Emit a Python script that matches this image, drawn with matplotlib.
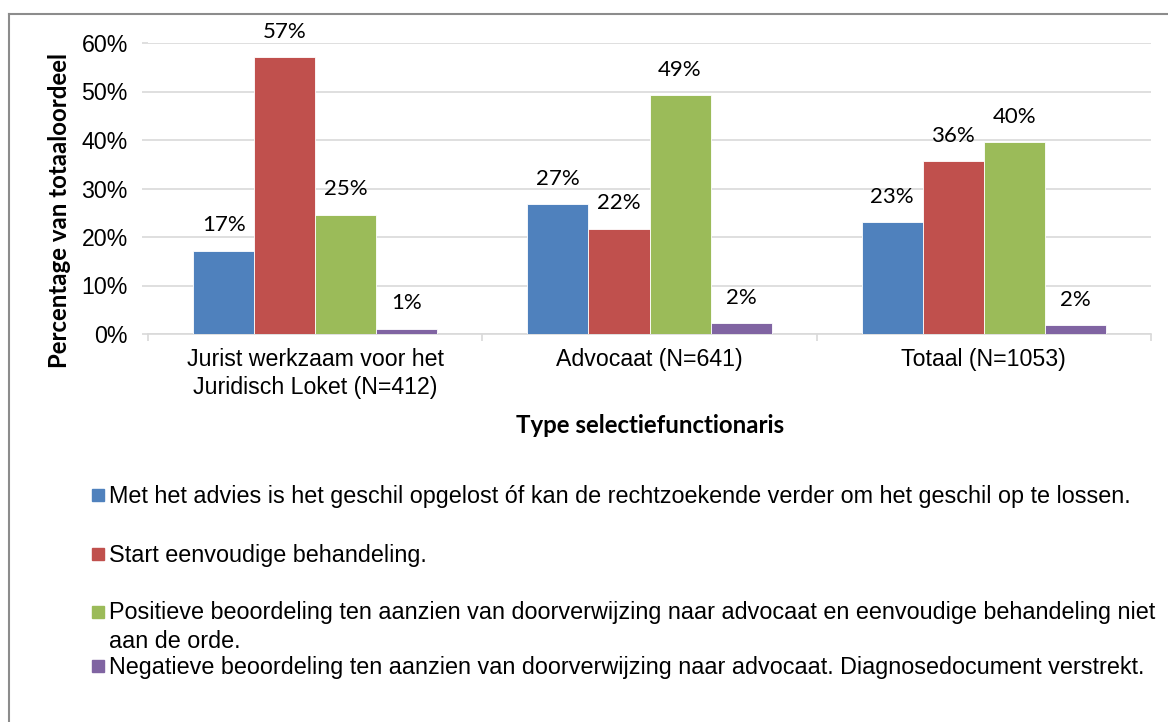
import matplotlib
matplotlib.use("Agg")
import matplotlib.pyplot as plt
from matplotlib.patches import Rectangle
from matplotlib.lines import Line2D
import numpy as np

# data (percent of total)
categories = ["Jurist werkzaam voor het\nJuridisch Loket (N=412)",
              "Advocaat (N=641)",
              "Totaal (N=1053)"]
met_advies = [17.2, 26.8, 23.0]
start_eenvoudig = [57.1, 21.7, 35.6]
positief = [24.6, 49.2, 39.6]
negatief = [1.1, 2.2, 1.8]
series_labels = [
    "Met het advies is het geschil opgelost óf kan de rechtzoekende verder om het geschil op te lossen.",
    "Start eenvoudige behandeling.",
    "Positieve beoordeling ten aanzien van doorverwijzing naar advocaat en eenvoudige behandeling niet\naan de orde.",
    "Negatieve beoordeling ten aanzien van doorverwijzing naar advocaat. Diagnosedocument verstrekt.",
]
yticks = [0, 10, 20, 30, 40, 50, 60]
colors = ["#4F81BD", "#C0504D", "#9BBB59", "#8064A2"]

W, H = 1168, 722
fig = plt.figure(figsize=(W / 100, H / 100), dpi=100)
ax = fig.add_axes([148 / W, 1 - 334 / H, (1151 - 148) / W, (334 - 43) / H])

series = [met_advies, start_eenvoudig, positief, negatief]
x = np.arange(len(categories))
w = 0.1825
for i, vals in enumerate(series):
    bars = ax.bar(x + (i - 1.5) * w, vals, w, color=colors[i],
                  edgecolor="white", linewidth=0.6, zorder=3)
    ax.bar_label(bars, labels=[f"{v:.0f}%" for v in vals], padding=11,
                 fontsize=16, family="Lato", color="black")

ax.set_xlim(-0.5, 2.5)
ax.set_ylim(0, 60)
ax.set_yticks(yticks)
ax.set_yticklabels([f"{t}%" for t in yticks], family="Liberation Sans", fontsize=16.7)
ax.set_xticks(x)
ax.set_xticklabels(categories, family="Liberation Sans", fontsize=16.7, linespacing=1.3)
ax.set_xticks([-0.5, 0.5, 1.5, 2.5], minor=True)
ax.tick_params(axis="x", which="major", length=0, pad=10)
ax.tick_params(axis="x", which="minor", length=5, width=1.2, color="#D9D9D9")
ax.tick_params(axis="y", length=4.5, width=1.2, color="#D9D9D9", pad=10)
ax.grid(axis="y", color="#D9D9D9", linewidth=1.2, zorder=0)
for s in ["top", "right", "left"]:
    ax.spines[s].set_visible(False)
ax.spines["bottom"].set_color("#D9D9D9")
ax.spines["bottom"].set_linewidth(1.2)

fig.text(60 / W, 1 - 210 / H, "Percentage van totaaloordeel", rotation=90,
         ha="center", va="center", family="Lato", fontweight="bold", fontsize=17.3)
fig.text(650 / W, 1 - 433 / H, "Type selectiefunctionaris", ha="center",
         va="baseline", family="Lato", fontweight="bold", fontsize=17.3)

# legend, placed like the original (first-line baselines in px)
baselines = [503, 562, 620, 674]
line_gap = 28
for lab, col, yb in zip(series_labels, colors, baselines):
    n = lab.count("\n")
    fig.add_artist(Rectangle((92 / W, 1 - (yb - 2) / H), 12 / W, 12 / H,
                             transform=fig.transFigure, color=col))
    fig.text(109 / W, 1 - (yb + n * line_gap) / H, lab, ha="left", va="baseline",
             family="Liberation Sans", fontsize=16.8, linespacing=1.33)

# chart frame
fig.add_artist(Line2D([9 / W, 9 / W], [0, 1 - 14 / H], transform=fig.transFigure,
                      color="#8C8C8C", linewidth=1.5))
fig.add_artist(Line2D([9 / W, 1], [1 - 14 / H, 1 - 14 / H], transform=fig.transFigure,
                      color="#8C8C8C", linewidth=1.5))

fig.savefig("out.png", dpi=100)
